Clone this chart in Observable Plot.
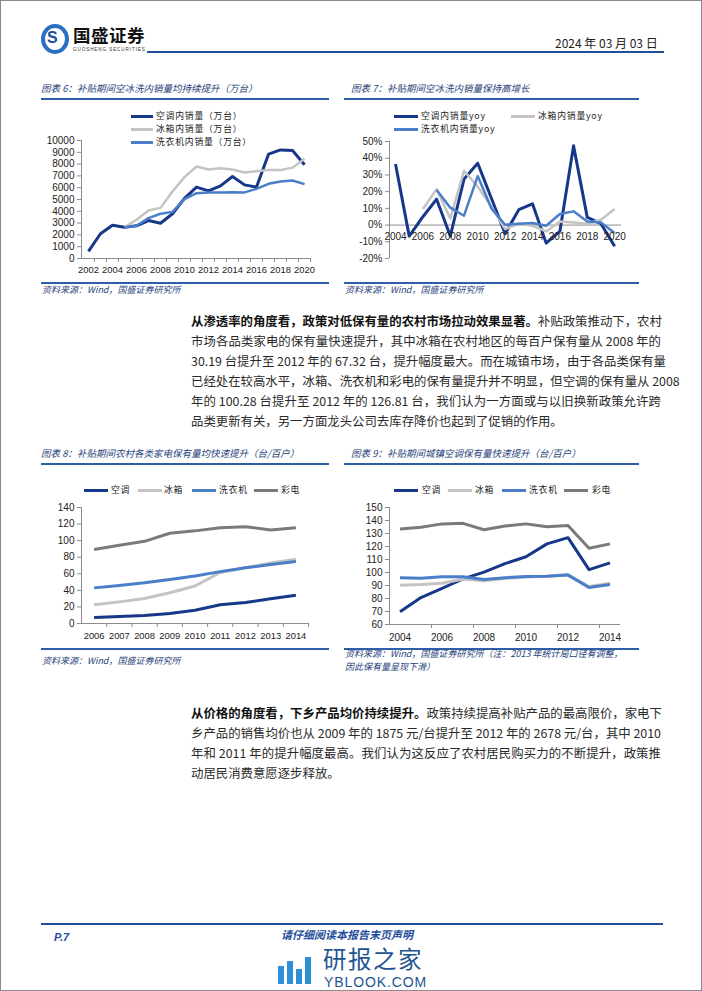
<!DOCTYPE html>
<html><head><meta charset="utf-8">
<script src="https://cdn.jsdelivr.net/npm/d3@7"></script>
<script src="https://cdn.jsdelivr.net/npm/@observablehq/plot@0.6"></script>
<style>
html,body{margin:0;padding:0;background:#fff;}
#page{position:relative;width:702px;height:991px;box-sizing:border-box;border:1px solid #8a8a8a;overflow:hidden;font-family:"Noto Sans CJK SC","Noto Sans",sans-serif;color:#222;}
.abs{position:absolute;white-space:nowrap;line-height:1;}
.title{position:absolute;white-space:nowrap;font-size:9.5px;font-style:italic;color:#1f3f7a;line-height:12px;}
.hr{position:absolute;height:1.6px;background:#2f5ea8;}
.src{position:absolute;white-space:nowrap;font-size:9px;font-style:italic;color:#1f3f7a;line-height:12px;}
.leg{position:absolute;white-space:nowrap;font-size:8.8px;line-height:10px;color:#222;letter-spacing:0.8px;}
.sw{position:absolute;height:3px;}
.para{position:absolute;left:190px;width:470px;font-size:12.4px;color:#2a2a2a;}
.para div{height:20px;line-height:20px;text-align:justify;text-align-last:justify;white-space:nowrap;overflow:visible;}
.para div.last{text-align-last:left;}
.para b{color:#111;}
.chart{position:absolute;}
</style>
</head><body>
<div id="page">
  <!-- header -->
  <div class="abs" style="left:40px;top:23px;width:20px;height:22px;border:4px solid #2a6fc0;border-radius:50%;"></div>
  <div class="abs" style="left:46px;top:28px;font:bold 16px 'Liberation Sans',sans-serif;color:#1c4f9a;">S</div>
  <div class="abs" style="left:72px;top:25px;font-size:17.5px;font-weight:bold;color:#111;letter-spacing:0.5px;">国盛证券</div>
  <div class="abs" style="left:72px;top:46px;font:4.6px 'Liberation Sans',sans-serif;color:#333;letter-spacing:0.9px;">GUOSHENG SECURITIES</div>
  <div class="abs" style="left:146px;top:50px;width:517px;height:2px;background:#1f4e9c;"></div>
  <div class="abs" style="left:554px;top:36px;font-size:12px;color:#222;">2024 年 03 月 03 日</div>

  <!-- chart 6 -->
  <div class="title" style="left:40px;top:81px;">图表 6：补贴期间空冰洗内销量均持续提升（万台）</div>
  <div class="hr" style="left:40px;top:97px;width:288px;"></div>
  <div id="c6" class="chart" style="left:40px;top:100px;"></div>
  <div class="sw" style="left:130px;top:114px;width:22px;background:#17388a;"></div>
  <div class="leg" style="left:155px;top:110px;">空调内销量（万台）</div>
  <div class="sw" style="left:130px;top:127px;width:22px;background:#c4c4c4;"></div>
  <div class="leg" style="left:155px;top:123px;">冰箱内销量（万台）</div>
  <div class="sw" style="left:130px;top:140px;width:22px;background:#4a7ec8;"></div>
  <div class="leg" style="left:155px;top:136px;">洗衣机内销量（万台）</div>
  <div class="hr" style="left:40px;top:281px;width:288px;"></div>
  <div class="src" style="left:41px;top:283px;">资料来源：Wind，国盛证券研究所</div>

  <!-- chart 7 -->
  <div class="title" style="left:350px;top:81px;">图表 7：补贴期间空冰洗内销量保持高增长</div>
  <div class="hr" style="left:343px;top:97px;width:295px;"></div>
  <div id="c7" class="chart" style="left:340px;top:100px;"></div>
  <div class="sw" style="left:393px;top:114px;width:24px;background:#17388a;"></div>
  <div class="leg" style="left:420px;top:110px;">空调内销量yoy</div>
  <div class="sw" style="left:510px;top:114px;width:24px;background:#c4c4c4;"></div>
  <div class="leg" style="left:537px;top:110px;">冰箱内销量yoy</div>
  <div class="sw" style="left:393px;top:127px;width:24px;background:#4a7ec8;"></div>
  <div class="leg" style="left:420px;top:123px;">洗衣机内销量yoy</div>
  <div class="hr" style="left:343px;top:281px;width:295px;"></div>
  <div class="src" style="left:344px;top:283px;">资料来源：Wind，国盛证券研究所</div>

  <!-- paragraph 1 -->
  <div class="para" style="top:310px;">
    <div><b>从渗透率的角度看，政策对低保有量的农村市场拉动效果显著。</b>补贴政策推动下，农村</div>
    <div>市场各品类家电的保有量快速提升，其中冰箱在农村地区的每百户保有量从 2008 年的</div>
    <div>30.19 台提升至 2012 年的 67.32 台，提升幅度最大。而在城镇市场，由于各品类保有量</div>
    <div>已经处在较高水平，冰箱、洗衣机和彩电的保有量提升并不明显，但空调的保有量从 2008</div>
    <div>年的 100.28 台提升至 2012 年的 126.81 台，我们认为一方面或与以旧换新政策允许跨</div>
    <div class="last">品类更新有关，另一方面龙头公司去库存降价也起到了促销的作用。</div>
  </div>

  <!-- chart 8 -->
  <div class="title" style="left:40px;top:446px;">图表 8：补贴期间农村各类家电保有量均快速提升（台/百户）</div>
  <div class="hr" style="left:40px;top:462px;width:288px;"></div>
  <div id="c8" class="chart" style="left:40px;top:495px;"></div>
  <div class="sw" style="left:83px;top:488px;width:24px;background:#17388a;"></div>
  <div class="leg" style="left:110px;top:484px;">空调</div>
  <div class="sw" style="left:137px;top:488px;width:24px;background:#c4c4c4;"></div>
  <div class="leg" style="left:163px;top:484px;">冰箱</div>
  <div class="sw" style="left:191px;top:488px;width:24px;background:#4a7ec8;"></div>
  <div class="leg" style="left:218px;top:484px;">洗衣机</div>
  <div class="sw" style="left:253px;top:488px;width:24px;background:#7a7a7a;"></div>
  <div class="leg" style="left:280px;top:484px;">彩电</div>
  <div class="hr" style="left:40px;top:647px;width:288px;"></div>
  <div class="src" style="left:41px;top:654px;">资料来源：Wind，国盛证券研究所</div>

  <!-- chart 9 -->
  <div class="title" style="left:350px;top:446px;">图表 9：补贴期间城镇空调保有量快速提升（台/百户）</div>
  <div class="hr" style="left:343px;top:462px;width:295px;"></div>
  <div id="c9" class="chart" style="left:340px;top:495px;"></div>
  <div class="sw" style="left:393px;top:488px;width:24px;background:#17388a;"></div>
  <div class="leg" style="left:421px;top:484px;">空调</div>
  <div class="sw" style="left:447px;top:488px;width:24px;background:#c4c4c4;"></div>
  <div class="leg" style="left:474px;top:484px;">冰箱</div>
  <div class="sw" style="left:501px;top:488px;width:24px;background:#4a7ec8;"></div>
  <div class="leg" style="left:528px;top:484px;">洗衣机</div>
  <div class="sw" style="left:563px;top:488px;width:24px;background:#7a7a7a;"></div>
  <div class="leg" style="left:591px;top:484px;">彩电</div>
  <div class="hr" style="left:343px;top:647px;width:295px;"></div>
  <div class="src" style="left:344px;top:647px;">资料来源：Wind，国盛证券研究所（注：2013 年统计局口径有调整，</div>
  <div class="src" style="left:344px;top:660px;">因此保有量呈现下滑）</div>

  <!-- paragraph 2 -->
  <div class="para" style="top:702px;">
    <div><b>从价格的角度看，下乡产品均价持续提升。</b>政策持续提高补贴产品的最高限价，家电下</div>
    <div>乡产品的销售均价也从 2009 年的 1875 元/台提升至 2012 年的 2678 元/台，其中 2010</div>
    <div>年和 2011 年的提升幅度最高。我们认为这反应了农村居民购买力的不断提升，政策推</div>
    <div class="last">动居民消费意愿逐步释放。</div>
  </div>

  <!-- footer -->
  <div class="abs" style="left:40px;top:922px;width:622px;height:2px;background:#1f4e9c;"></div>
  <div class="abs" style="left:53px;top:930px;font:italic bold 11px 'Liberation Sans',sans-serif;color:#1f4e9c;">P.7</div>
  <div class="abs" style="left:280px;top:928px;font-size:11px;font-style:italic;font-weight:bold;color:#1f4e9c;">请仔细阅读本报告末页声明</div>
  <!-- watermark -->
  <div class="abs" style="left:277px;top:965px;width:6px;height:18px;background:#2f8fd6;"></div>
  <div class="abs" style="left:286px;top:960px;width:6px;height:23px;background:#2f8fd6;"></div>
  <div class="abs" style="left:295px;top:968px;width:6px;height:15px;background:#2f8fd6;"></div>
  <div class="abs" style="left:304px;top:956px;width:6px;height:27px;background:#2f8fd6;"></div>
  <div class="abs" style="left:322px;top:946px;font-size:23.5px;color:#24548f;letter-spacing:1.5px;">研报之家</div>
  <div class="abs" style="left:323px;top:973px;font:14px 'Liberation Sans',sans-serif;color:#24548f;letter-spacing:0.9px;">YBLOOK.COM</div>
</div>

<script>
// ---------- data ----------
const years6 = [2002,2003,2004,2005,2006,2007,2008,2009,2010,2011,2012,2013,2014,2015,2016,2017,2018,2019,2020];
const ac6 = [600,2100,2820,2650,2770,3220,2990,3790,5100,6050,5730,6160,6950,6240,6050,8840,9200,9150,7950];
const fridge6 = [null,null,null,2650,3280,4070,4290,5680,6900,7800,7540,7650,7540,7290,7400,7490,7490,7700,8450];
const washer6 = [null,null,null,2650,2770,3420,3790,3950,5030,5540,5600,5600,5620,5600,5900,6330,6530,6610,6300];
const yTicks6 = [0,1000,2000,3000,4000,5000,6000,7000,8000,9000,10000];
const xLabels6 = [2002,2004,2006,2008,2010,2012,2014,2016,2018,2020];

const years7 = [2004,2005,2006,2007,2008,2009,2010,2011,2012,2013,2014,2015,2016,2017,2018,2019,2020];
const ac7 = [36.5,-6.6,5,15.5,-6.6,27.5,37,16,-5.2,9.2,12.7,-10.8,-3.8,47.4,4.6,0.8,-12.7];
const fridge7 = [null,null,9.6,21.5,4,32.5,23,11,-2.4,0.8,-0.4,-3.8,2.2,1.6,0.8,3.2,9.6];
const washer7 = [null,null,null,21,10.4,5.6,29.3,10,0.2,0.8,1.2,-0.4,6.6,8.2,2.2,1.6,-4.8];
const yTicks7 = [-20,-10,0,10,20,30,40,50];
const xLabels7 = [2004,2006,2008,2010,2012,2014,2016,2018,2020];

const years8 = [2006,2007,2008,2009,2010,2011,2012,2013,2014];
const ac8 = [7.3,8.5,9.8,12.2,16.0,22.6,25.4,29.8,34.2];
const fridge8 = [22.5,26.1,30.19,37.1,45.2,61.5,67.32,72.9,77.6];
const washer8 = [43.0,45.9,49.1,53.1,57.3,62.6,67.2,71.2,74.8];
const tv8 = [89.4,94.4,99.2,108.9,111.8,115.5,116.9,112.9,115.6];
const yTicks8 = [0,20,40,60,80,100,120,140];

const years9 = [2004,2005,2006,2007,2008,2009,2010,2011,2012,2013,2014];
const ac9 = [69.8,80.7,87.8,95.1,100.28,106.8,112.1,122.0,126.81,102.2,107.4];
const fridge9 = [90.2,90.7,91.8,95.0,93.6,95.4,96.6,97.2,98.5,89.2,91.7];
const washer9 = [95.9,95.5,96.8,96.8,94.7,96.0,96.9,97.1,98.0,88.4,90.7];
const tv9 = [133.4,134.8,137.4,137.8,132.9,135.7,137.4,135.2,136.1,118.6,122.0];
const yTicks9 = [60,70,80,90,100,110,120,130,140,150];
const xLabels9 = [2004,2006,2008,2010,2012,2014];

// ---------- styles ----------
const C = {ac:"#17388a", fridge:"#c4c4c4", washer:"#4a7ec8", tv:"#7a7a7a", axis:"#8c8c8c"};
const fontStyle = {fontFamily:"'Liberation Sans', Arial, sans-serif", fontSize:"10px", color:"#222", background:"transparent", overflow:"visible"};

function rows(years, series) {
  return years.map((yr, i) => {
    const r = {year: yr};
    for (const k in series) r[k] = series[k][i];
    return r;
  });
}
function lines(data, keys, widths) {
  return keys.map((k, i) => Plot.line(data, {x:"year", y:k, stroke:C[k], strokeWidth:widths[i], strokeLinejoin:"round", strokeLinecap:"butt"}));
}

// ---------- chart 6 ----------
{
  const data = rows(years6, {ac:ac6, fridge:fridge6, washer:washer6});
  const xd = [years6[0]-0.58, years6[years6.length-1]+0.58];
  const bounds = years6.map(y => y + 0.5);
  const yd = [yTicks6[0], yTicks6[yTicks6.length-1]];
  const svg = Plot.plot({
    width:290, height:175, marginLeft:40, marginRight:20, marginTop:39, marginBottom:18,
    style:fontStyle,
    x:{domain:xd, axis:null}, y:{domain:yd, axis:null},
    marks:[
      Plot.axisY({ticks:yTicks6, tickSize:4, tickPadding:3, tickFormat:d=>String(d), stroke:C.axis, label:null}),
      Plot.axisX({ticks:bounds, tickSize:4, tickFormat:()=>"", stroke:C.axis, label:null}),
      Plot.axisX({ticks:xLabels6, tickSize:0, tickPadding:8, tickFormat:d=>String(d), label:null, fontSize:9.4}),
      Plot.ruleY([yd[0]], {stroke:C.axis}),
      Plot.ruleX([xd[0]], {y1:yd[0], y2:yd[1], stroke:C.axis}),
      ...lines(data, ["ac","fridge","washer"], [3,2.5,2.5])
    ]
  });
  document.getElementById("c6").appendChild(svg);
}

// ---------- chart 7 ----------
{
  const data = rows(years7, {ac:ac7, fridge:fridge7, washer:washer7});
  const xd = [years7[0]-0.44, years7[years7.length-1]+0.5];
  const yd = [yTicks7[0], yTicks7[yTicks7.length-1]];
  const svg = Plot.plot({
    width:300, height:175, marginLeft:48, marginRight:20, marginTop:40, marginBottom:18,
    style:fontStyle,
    x:{domain:xd, axis:null}, y:{domain:yd, axis:null},
    marks:[
      Plot.axisY({ticks:yTicks7, tickSize:4, tickPadding:3, tickFormat:d=>d+"%", stroke:C.axis, label:null}),
      Plot.ruleX([xd[0]], {y1:yd[0], y2:yd[1], stroke:C.axis}),
      Plot.ruleY([0], {stroke:C.axis}),
      ...lines(data, ["ac","fridge","washer"], [3,2.5,2.5]),
      Plot.text(xLabels7, {x:d=>d, y:0, dy:12, text:d=>String(d), fill:"#222"})
    ]
  });
  document.getElementById("c7").appendChild(svg);
}

// ---------- chart 8 ----------
{
  const data = rows(years8, {ac:ac8, fridge:fridge8, washer:washer8, tv:tv8});
  const xd = [years8[0]-0.5, years8[years8.length-1]+0.5];
  const bounds = years8.map(y => y + 0.5);
  const yd = [yTicks8[0], yTicks8[yTicks8.length-1]];
  const svg = Plot.plot({
    width:280, height:150, marginLeft:40, marginRight:13, marginTop:11, marginBottom:23,
    style:fontStyle,
    x:{domain:xd, axis:null}, y:{domain:yd, axis:null},
    marks:[
      Plot.axisY({ticks:yTicks8, tickSize:4, tickPadding:3, tickFormat:d=>String(d), stroke:C.axis, label:null}),
      Plot.axisX({ticks:bounds, tickSize:4, tickFormat:()=>"", stroke:C.axis, label:null}),
      Plot.axisX({ticks:years8, tickSize:0, tickPadding:9, tickFormat:d=>String(d), label:null, fontSize:9.4}),
      Plot.ruleY([yd[0]], {stroke:C.axis}),
      Plot.ruleX([xd[0]], {y1:yd[0], y2:yd[1], stroke:C.axis}),
      ...lines(data, ["ac","fridge","washer","tv"], [3,3,3,3])
    ]
  });
  document.getElementById("c8").appendChild(svg);
}

// ---------- chart 9 ----------
{
  const data = rows(years9, {ac:ac9, fridge:fridge9, washer:washer9, tv:tv9});
  const xd = [years9[0]-0.5, years9[years9.length-1]+0.5];
  const bounds = years9.filter((y,i) => i % 2 === 1).map(y => y + 0.5);
  const yd = [yTicks9[0], yTicks9[yTicks9.length-1]];
  const svg = Plot.plot({
    width:290, height:150, marginLeft:48, marginRight:11, marginTop:11, marginBottom:22,
    style:fontStyle,
    x:{domain:xd, axis:null}, y:{domain:yd, axis:null},
    marks:[
      Plot.axisY({ticks:yTicks9, tickSize:4, tickPadding:3, tickFormat:d=>String(d), stroke:C.axis, label:null}),
      Plot.axisX({ticks:bounds, tickSize:4, tickFormat:()=>"", stroke:C.axis, label:null}),
      Plot.axisX({ticks:xLabels9, tickSize:0, tickPadding:9, tickFormat:d=>String(d), label:null}),
      Plot.ruleY([yd[0]], {stroke:C.axis}),
      Plot.ruleX([xd[0]], {y1:yd[0], y2:yd[1], stroke:C.axis}),
      ...lines(data, ["ac","fridge","washer","tv"], [3,3,3,3])
    ]
  });
  document.getElementById("c9").appendChild(svg);
}
</script>
</body></html>
